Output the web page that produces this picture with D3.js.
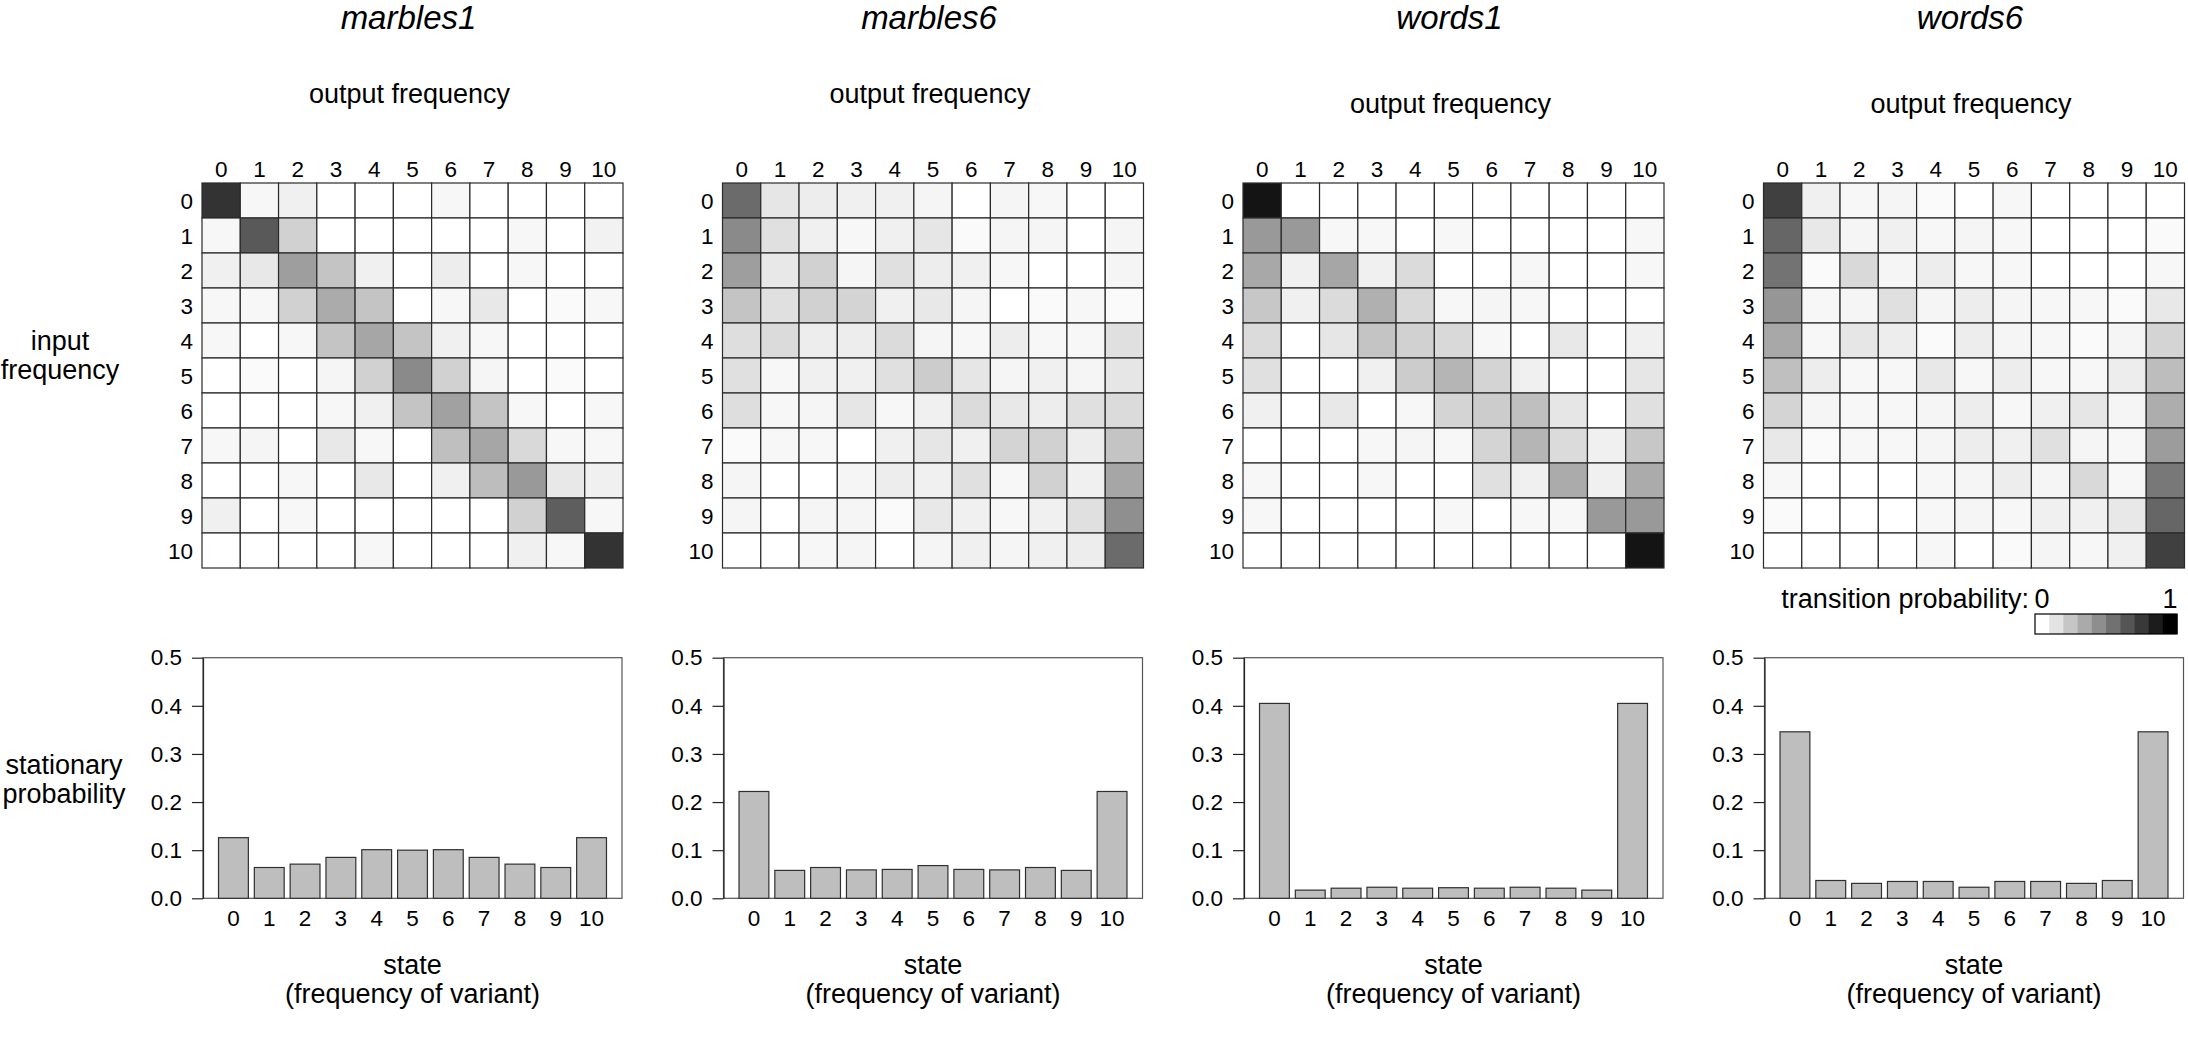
<!DOCTYPE html>
<html><head><meta charset="utf-8">
<script src="https://cdn.jsdelivr.net/npm/d3@7"></script>
<style>
body{margin:0;background:#fff;}
svg{display:block;}
text{font-family:"Liberation Sans",Arial,Helvetica,sans-serif;fill:#000;}
</style>
</head><body>
<svg id="chart" width="2188" height="1042"></svg>
<script>
// ---------- data ----------
const states = [0,1,2,3,4,5,6,7,8,9,10];
const panelNames = ["marbles1","marbles6","words1","words6"];
const yTicks = [0,0.1,0.2,0.3,0.4,0.5];
const legendLevels = [0,0.111,0.222,0.333,0.444,0.556,0.667,0.778,0.889,1];

const marbles1Matrix = [
[0.80,0.03,0.06,0,0,0,0.03,0,0,0,0],
[0.03,0.65,0.18,0,0,0,0,0,0.03,0,0.05],
[0.06,0.09,0.38,0.23,0.06,0,0.07,0,0.03,0,0],
[0.03,0.03,0.18,0.33,0.23,0,0.03,0.09,0,0.02,0.03],
[0.03,0,0.03,0.23,0.35,0.23,0.06,0.03,0,0,0],
[0,0.02,0,0.04,0.18,0.46,0.18,0.04,0,0.02,0],
[0,0,0,0.03,0.06,0.23,0.37,0.23,0.03,0,0.03],
[0.03,0.04,0,0.09,0.03,0,0.25,0.35,0.15,0.03,0.03],
[0,0,0.03,0,0.09,0,0.06,0.26,0.40,0.09,0.06],
[0.06,0,0.03,0,0,0,0,0,0.18,0.63,0.03],
[0,0,0,0,0.03,0,0,0,0.06,0.03,0.80]
];
const marbles6Matrix = [
[0.58,0.10,0.07,0.06,0.06,0.04,0,0.04,0.03,0,0],
[0.46,0.12,0.06,0.03,0.06,0.10,0.02,0.04,0.04,0,0.04],
[0.38,0.09,0.18,0.04,0.12,0.07,0.06,0.03,0,0,0.04],
[0.23,0.12,0.18,0.17,0.06,0.09,0.04,0,0.02,0.03,0.02],
[0.13,0.14,0.07,0.07,0.14,0.04,0.03,0.07,0.03,0.03,0.12],
[0.12,0.03,0.06,0.06,0.12,0.20,0.10,0.04,0.06,0.04,0.10],
[0.13,0.03,0.04,0.10,0.03,0.06,0.14,0.09,0.07,0.12,0.14],
[0.02,0.03,0.03,0,0.06,0.10,0.06,0.17,0.18,0.07,0.23],
[0.04,0,0,0.04,0.07,0.06,0.12,0.03,0.18,0.06,0.35],
[0.04,0,0.04,0.04,0.02,0.09,0.06,0.03,0.06,0.12,0.44],
[0,0,0.03,0.04,0,0.04,0.06,0.04,0.06,0.07,0.58]
];
const words1Matrix = [
[0.92,0,0,0,0,0,0,0,0,0,0],
[0.40,0.40,0.03,0.03,0,0.03,0,0,0,0,0.03],
[0.34,0.06,0.35,0.06,0.14,0,0,0.03,0,0,0.03],
[0.22,0.06,0.14,0.31,0.15,0.03,0.04,0.03,0,0,0],
[0.14,0,0.10,0.23,0.18,0.15,0.03,0,0.09,0,0.06],
[0.12,0,0,0.06,0.20,0.29,0.17,0.06,0,0,0.10],
[0.06,0,0.09,0,0.03,0.17,0.20,0.25,0.10,0,0.12],
[0,0,0,0.03,0.04,0.03,0.17,0.29,0.14,0.06,0.22],
[0.03,0,0,0.03,0,0,0.12,0.06,0.33,0.06,0.33],
[0.03,0,0,0,0,0.03,0,0.03,0.03,0.40,0.40],
[0,0,0,0,0,0,0,0,0,0,0.92]
];
const words6Matrix = [
[0.75,0.06,0.03,0.04,0.02,0,0.03,0,0,0,0],
[0.60,0.09,0.04,0.06,0.03,0.04,0.03,0,0,0,0.02],
[0.55,0.02,0.15,0.04,0.07,0.03,0.03,0,0,0,0.03],
[0.41,0.03,0.04,0.12,0.04,0.07,0.04,0.03,0.03,0.02,0.09],
[0.34,0.03,0.10,0.07,0.02,0.07,0.04,0.03,0.02,0.04,0.17],
[0.25,0.07,0.03,0.03,0.09,0.03,0.07,0.03,0.03,0.07,0.26],
[0.17,0.04,0.03,0.03,0.04,0.07,0.03,0.06,0.10,0.04,0.32],
[0.09,0.02,0.03,0.03,0.04,0.07,0.06,0.12,0.04,0.03,0.39],
[0.03,0,0,0,0.03,0.04,0.07,0.04,0.15,0.03,0.53],
[0.02,0,0,0,0.03,0.04,0.03,0.06,0.06,0.09,0.60],
[0,0,0,0,0.03,0,0.02,0.04,0.03,0.06,0.75]
];

const marbles1Stationary = [0.126,0.064,0.071,0.085,0.101,0.100,0.101,0.085,0.071,0.064,0.126];
const marbles6Stationary = [0.222,0.058,0.064,0.059,0.060,0.068,0.060,0.059,0.064,0.058,0.222];
const words1Stationary  = [0.405,0.017,0.021,0.023,0.021,0.022,0.021,0.023,0.021,0.017,0.405];
const words6Stationary  = [0.346,0.037,0.031,0.035,0.035,0.023,0.035,0.035,0.031,0.037,0.346];

const matrices = [marbles1Matrix, marbles6Matrix, words1Matrix, words6Matrix];
const stationaries = [marbles1Stationary, marbles6Stationary, words1Stationary, words6Stationary];

// ---------- layout ----------
const svg = d3.select("#chart");
const panelLeft = [202, 722.5, 1243, 1763.5];
const hmW = 421, hmTop = 183, hmBottom = 568;
const barW = 419, barTop = 657.7, barBottom = 898.3;
const outputY = [103, 103, 113, 113];
const tickFont = 22.5;
const gridStroke = "#2a2a2a";
const color = d3.scaleLinear().domain([0,1]).range(["#ffffff","#000000"]);
const yBar = d3.scaleLinear().domain([0,0.5]).range([barBottom, barTop]);

panelNames.forEach((name, i) => {
  const L = panelLeft[i];
  const cx = L + hmW/2;
  const g = svg.append("g");

  // title
  g.append("text").attr("x", cx - 4).attr("y", 29)
    .attr("text-anchor","middle").attr("font-size", 33).attr("font-style","italic")
    .text(name);
  g.append("text").attr("x", cx - 3).attr("y", outputY[i])
    .attr("text-anchor","middle").attr("font-size", 27)
    .text("output frequency");

  // heatmap
  const x = d3.scaleBand().domain(states).range([L, L + hmW]);
  const y = d3.scaleBand().domain(states).range([hmTop, hmBottom]);
  const m = matrices[i];
  const cells = [];
  m.forEach((row, r) => row.forEach((p, c) => cells.push({r, c, p})));
  g.append("g").selectAll("rect").data(cells).join("rect")
    .attr("x", d => x(d.c)).attr("y", d => y(d.r))
    .attr("width", x.bandwidth()).attr("height", y.bandwidth())
    .attr("fill", d => color(d.p))
    .attr("stroke", gridStroke).attr("stroke-width", 1.2);

  g.append("g").selectAll("text").data(states).join("text")
    .attr("x", d => x(d) + x.bandwidth()/2).attr("y", 176.5)
    .attr("text-anchor","middle").attr("font-size", tickFont).text(d => d);
  g.append("g").selectAll("text").data(states).join("text")
    .attr("x", L - 9).attr("y", d => y(d) + y.bandwidth()/2 + 8.5)
    .attr("text-anchor","end").attr("font-size", tickFont).text(d => d);

  // bar chart
  const bl = L + 1;
  const xb = d3.scaleBand().domain(states).range([bl, bl + barW])
    .paddingInner(1/6).paddingOuter(0.4333);
  const s = stationaries[i];
  g.append("rect").attr("x", bl).attr("y", barTop).attr("width", barW)
    .attr("height", barBottom - barTop).attr("fill","none")
    .attr("stroke","#555").attr("stroke-width",1.2);
  g.append("g").selectAll("rect").data(states).join("rect")
    .attr("x", d => xb(d)).attr("y", d => yBar(s[d]))
    .attr("width", xb.bandwidth()).attr("height", d => barBottom - yBar(s[d]))
    .attr("fill","#bebebe").attr("stroke","#303030").attr("stroke-width",1.2);

  const ax = g.append("g").attr("transform", `translate(${bl},0)`)
    .call(d3.axisLeft(yBar).tickValues(yTicks).tickFormat(d3.format(".1f"))
      .tickSize(11).tickPadding(10).tickSizeOuter(0));
  ax.select(".domain").attr("stroke","#222").attr("stroke-width",1.2);
  ax.selectAll(".tick line").attr("stroke","#222").attr("stroke-width",1.2);
  ax.selectAll(".tick text").attr("font-size",tickFont)
    .attr("font-family",'"Liberation Sans",Arial,sans-serif').attr("fill","#000");

  g.append("g").selectAll("text").data(states).join("text")
    .attr("x", d => xb(d) + xb.bandwidth()/2).attr("y", 925.5)
    .attr("text-anchor","middle").attr("font-size", tickFont).text(d => d);

  const bcx = bl + barW/2;
  g.append("text").attr("x", bcx).attr("y", 974).attr("text-anchor","middle")
    .attr("font-size", 27).text("state");
  g.append("text").attr("x", bcx).attr("y", 1003).attr("text-anchor","middle")
    .attr("font-size", 27).text("(frequency of variant)");
});

// left labels
const leftLab = svg.append("g").attr("font-size", 27).attr("text-anchor","middle");
leftLab.append("text").attr("x", 60).attr("y", 350).text("input");
leftLab.append("text").attr("x", 60).attr("y", 379).text("frequency");
leftLab.append("text").attr("x", 64).attr("y", 774).text("stationary");
leftLab.append("text").attr("x", 64).attr("y", 803).text("probability");

// legend
const lg = svg.append("g");
const lx = d3.scaleBand().domain(d3.range(legendLevels.length)).range([2035, 2177]);
lg.append("text").attr("x", 2029).attr("y", 608).attr("text-anchor","end")
  .attr("font-size", 27).text("transition probability:");
lg.selectAll("rect.cell").data(legendLevels).join("rect").attr("class","cell")
  .attr("x", (d,j) => lx(j)).attr("y", 614).attr("width", lx.bandwidth() + 0.5)
  .attr("height", 20).attr("fill", d => color(d));
lg.append("rect").attr("x", 2035).attr("y", 614).attr("width", 142).attr("height", 20)
  .attr("fill","none").attr("stroke","#000").attr("stroke-width",1.2);
lg.append("text").attr("x", lx(0) + lx.bandwidth()/2).attr("y", 608)
  .attr("text-anchor","middle").attr("font-size", 27).text("0");
lg.append("text").attr("x", lx(legendLevels.length-1) + lx.bandwidth()/2).attr("y", 608)
  .attr("text-anchor","middle").attr("font-size", 27).text("1");
</script>
</body></html>
